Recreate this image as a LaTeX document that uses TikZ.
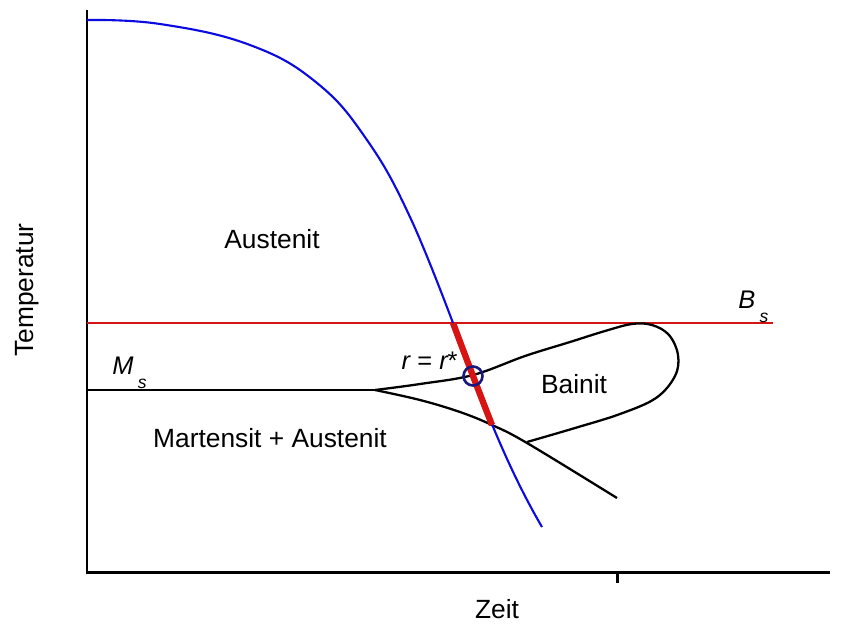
\documentclass[tikz,border=0pt]{standalone}
\usepackage{fontspec}
\setmainfont{Liberation Sans}
\usetikzlibrary{positioning}

\definecolor{coolblue}{RGB}{10,10,225}
\definecolor{bsred}{RGB}{215,20,20}
\definecolor{navy}{RGB}{25,25,125}
\newcommand{\idx}[2]{{\itshape #1}\hspace{2.5pt}\raisebox{-8pt}{\fontsize{10}{11}\selectfont\itshape #2}}

\begin{document}
\begin{tikzpicture}[x=0.02cm, y=-0.02cm,axis/.style={line width=1.7pt},phase/.style={line width=1.3pt, line join=round},lbl/.style={font=\fontsize{15}{18}\selectfont, inner sep=0pt},sym/.style={font=\fontsize{14.5}{17}\selectfont, inner sep=0pt}]
\useasboundingbox (0,0) rectangle (845,626);
% axes
\coordinate (ytop) at (87,10);\coordinate (origin) at (87,572);\coordinate (xend) at (830,572);\coordinate (tick) at (617,572);
\draw[axis] (ytop) -- (origin) -- (xend);
\draw[axis] (tick) -- ++(0,11);
% bainite start and martensite start
\coordinate (bs0) at (87,323);\coordinate (bs1) at (773,323);
\draw[bsred, line width=1.2pt] (bs0) -- (bs1);
\coordinate (ms0) at (87,390);\coordinate (nose) at (375,390);
\draw[phase] (ms0) -- (nose);
\draw[phase] plot[smooth, tension=0.6] coordinates {(375,390) (420,384) (473,375) (525,356) (570,342) (605,331) (632,324) (652,325) (669,335) (678,355) (675,376) (656,398) (620,414) (575,428) (527,442)};
\draw[phase] plot[smooth, tension=0.6] coordinates {(375,390) (420,400) (460,412) (492,425) (527,443) (617,498)};
% cooling curve
\draw[coolblue, line width=1.2pt] plot[smooth, tension=0.7] coordinates {(87,20) (160,24) (250,45) (317,83) (367,140) (410,217) (453,323)} .. controls (475,380) and (500,455) .. (542,527);
\draw[bsred, line width=3.6pt] plot[smooth, tension=0.6] coordinates {(453,323) (473,376) (492,425)};
\draw[navy, line width=1.5pt] (473,376) circle [radius=0.19cm];
% labels
\node[lbl, anchor=base] (austenit) at (272,248) {Austenit};
\node[lbl, anchor=base] (martensit) at (270,447) {Martensit + Austenit};
\node[lbl, anchor=base] (bainit) at (574,393) {Bainit};
\node[lbl, anchor=base] (zeit) at (497,618) {Zeit};
\node[lbl, anchor=base, rotate=90] (temp) at (33,290) {Temperatur};
\node[sym, anchor=base west] (ms) at (112,374) {\idx{M}{s}};
\node[sym, anchor=base west] (bs) at (738,308) {\idx{B}{s}};
\node[sym, anchor=base east] (rr) at (458,369) {{\itshape r} = {\itshape r}*};
\end{tikzpicture}
\end{document}
